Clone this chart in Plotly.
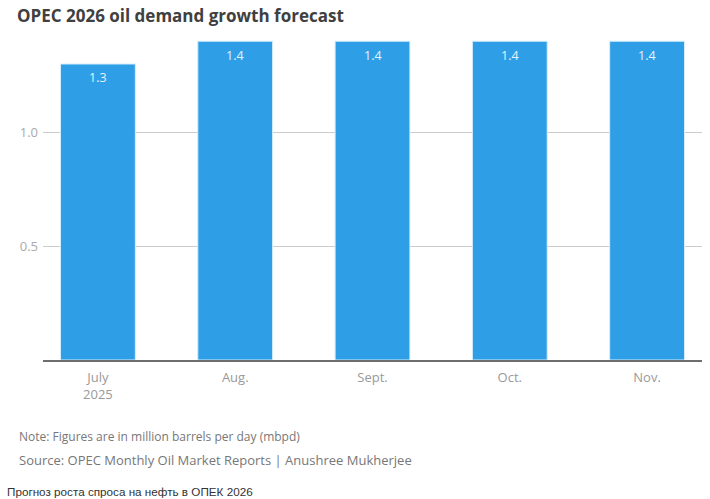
import plotly.graph_objects as go

categories = ["July<br>2025", "Aug.", "Sept.", "Oct.", "Nov."]
values = [1.3, 1.4, 1.4, 1.4, 1.4]
value_labels = ["1.3", "1.4", "1.4", "1.4", "1.4"]
y_ticks = [0.5, 1.0]
y_tick_labels = ["0.5", "1.0"]

title = "OPEC 2026 oil demand growth forecast"
note = "Note: Figures are in million barrels per day (mbpd)"
source = "Source: OPEC Monthly Oil Market Reports | Anushree Mukherjee"
caption = "Прогноз роста спроса на нефть в ОПЕК 2026"

font_main = "Open Sans, DejaVu Sans, sans-serif"

W, H = 710, 499
plot_l, plot_r, plot_t, plot_b = 43, 702, 23, 360

fig = go.Figure()
fig.add_trace(go.Bar(
    x=list(range(len(categories))),
    y=values,
    width=0.545,
    marker=dict(color="#2E9FE7", line=dict(color="#D6EEFB", width=1)),
    hoverinfo="skip",
))


def to_paper(xp, yp):
    return (xp - plot_l) / (plot_r - plot_l), (plot_b - yp) / (plot_b - plot_t)


anns = []
# value labels inside bar tops, positioned through the data axes
for i, (v, lab) in enumerate(zip(values, value_labels)):
    anns.append(dict(text=lab, x=i, y=v, xref="x", yref="y",
                     xanchor="center", yanchor="middle", yshift=-14,
                     showarrow=False,
                     font=dict(size=12.5, color="#E6F3FC", family=font_main)))

for text, xp, yp, size, color, fam in [
    (note, 17, 436, 12, "#777777", font_main),
    (source, 17, 460, 13, "#777777", font_main),
    (caption, 5, 491, 11.7, "#333333", "Liberation Sans, Arial, sans-serif"),
]:
    px, py = to_paper(xp, yp)
    anns.append(dict(text=text, x=px, y=py, xref="paper", yref="paper",
                     xanchor="left", yanchor="middle", showarrow=False,
                     font=dict(size=size, color=color, family=fam)))

fig.update_layout(
    width=W, height=H,
    margin=dict(l=plot_l, r=W - plot_r, t=plot_t, b=H - plot_b),
    paper_bgcolor="white",
    plot_bgcolor="white",
    showlegend=False,
    font=dict(family=font_main, color="#999999"),
    title=dict(
        text="<b>" + title + "</b>",
        x=17 / W, xref="container", xanchor="left",
        y=1 - 16 / H, yref="container", yanchor="middle",
        font=dict(size=17, color="#404040", family=font_main),
    ),
    xaxis=dict(
        range=[-0.4, 4.4],
        tickmode="array",
        tickvals=list(range(len(categories))),
        ticktext=categories,
        showgrid=False,
        zeroline=False,
        showline=True,
        linecolor="#6E6E6E",
        linewidth=2,
        ticks="",
        ticklabelstandoff=4,
        tickfont=dict(size=13, color="#999999", family=font_main),
        fixedrange=True,
    ),
    yaxis=dict(
        range=[0, 1.48],
        tickmode="array",
        tickvals=y_ticks,
        ticktext=y_tick_labels,
        showgrid=True,
        gridcolor="#CCCCCC",
        gridwidth=1,
        zeroline=False,
        showline=False,
        ticks="",
        ticklabelstandoff=4,
        tickfont=dict(size=13, color="#AAAAAA", family=font_main),
        fixedrange=True,
    ),
    annotations=anns,
)

fig.write_html(
    "out.html",
    config={"displayModeBar": False, "staticPlot": True},
    post_script="document.body.style.margin='0';document.body.style.overflow='hidden';",
)
